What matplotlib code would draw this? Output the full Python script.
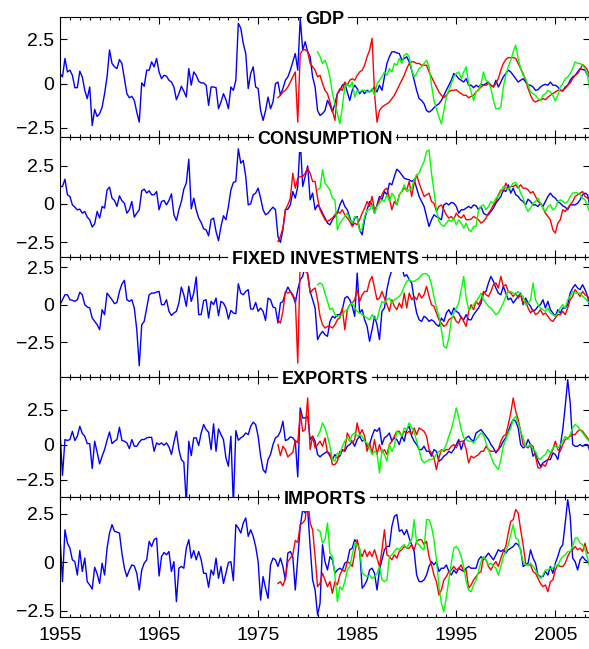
import numpy as np
import matplotlib
matplotlib.use("Agg")
import matplotlib.pyplot as plt

plt.rcParams["font.family"] = ["Liberation Sans", "DejaVu Sans"]

# quarterly series, first quarter of each
start_blue = 1955.0
start_red = 1977.0
start_green = 1981.0

gdp_blue = [
    0.57, 0.38, 1.42, 0.66, 0.76, 0.47, -0.23, -0.23, 0.70, 0.38,
    -0.38, -0.85, -0.19, -2.37, -1.46, -1.86, -1.70, -1.33, -0.57, 0.38,
    1.90, 1.14, 0.95, 0.85, 1.36, 1.14, 0.28, -0.57, -0.80, -0.72,
    -0.95, -1.61, -2.18, 0.04, -0.15, 0.76, 0.76, 1.23, 0.95, 1.42,
    0.66, 0.28, 0.47, 0.42, 0.19, 0.09, -0.19, -0.91, -0.57, -0.15,
    -0.43, -0.76, 0.85, -0.09, 0.66, 0.47, 0.13, 0.04, 0.04, -0.09,
    -1.23, -0.19, -0.19, -0.23, -1.42, -1.04, -0.57, -0.91, -1.42, -0.19,
    -0.38, 0.19, 3.41, 3.13, 2.27, 1.70, -0.28, 0.57, 0.95, -0.19,
    -0.28, -1.52, -2.08, -1.52, -0.76, -1.42, -1.04, 0.00, 0.09, -0.66,
    -0.28, 0.19, 0.38, 0.76, 1.23, 1.70, 0.76, 3.69, 1.89, 2.37,
    1.80, 1.52, 0.38, -0.19, -1.52, -1.80, -1.70, -1.52, -0.95, -1.23,
    -1.61, -1.14, -0.57, -0.38, -0.09, 0.00, -0.47, -0.95, -0.38, -0.09,
    -0.28, -0.57, -0.38, -0.57, -0.38, -0.47, -0.38, -0.19, -0.47, -0.09,
    -0.38, 0.38, 1.14, 1.52, 1.80, 1.80, 1.74, 1.70, 1.33, 1.42,
    1.52, 1.23, 0.76, 0.19, -0.38, -0.85, -0.95, -1.14, -1.52, -1.61,
    -1.52, -1.36, -1.23, -1.14, -0.95, -0.66, -0.38, -0.09, 0.19, 0.57,
    0.47, 0.28, 0.19, 0.09, 0.28, -0.09, -0.09, -0.23, -0.09, -0.19,
    -0.04, -0.09, 0.00, 0.09, -0.09, -0.19, 0.19, -0.19, 0.09, 0.38,
    0.57, 0.76, 0.66, 0.47, 0.28, 0.09, 0.19, 0.28, 0.09, -0.09,
    -0.09, -0.19, -0.38, -0.34, -0.19, -0.09, -0.04, -0.09, 0.09, -0.09,
    -0.09, -0.19, -0.38, -0.42, -0.19, -0.09, 0.19, 0.38, 0.47, 0.66,
    0.85, 0.80, 0.76, 0.47, 0.38,
]
gdp_red = [
    -0.80, -0.66, -0.47, -0.38, -0.19, 0.09, 0.38, 0.66, -2.18, 1.70,
    1.89, 1.93, 1.80, 1.14, 0.95, 0.76, 0.38, 0.47, 0.00, -0.38,
    -0.57, -1.04, -1.52, -2.08, -0.57, -0.28, -0.38, 0.09, -0.09, 0.19,
    0.28, 0.19, 0.47, 0.66, 0.76, 1.04, 1.52, 1.89, 2.56, -0.57,
    -2.18, -1.52, -1.33, -1.23, -1.14, -1.04, -0.85, -0.66, -0.38, -0.09,
    0.19, 0.47, 0.85, 1.14, 1.23, 1.23, 1.14, 1.14, 1.04, 1.04,
    1.04, 0.66, 0.38, 0.09, -0.19, -0.47, -0.66, -0.80, -0.66, -0.47,
    -0.38, -0.38, -0.34, -0.47, -0.57, -0.66, -0.66, -0.80, -0.72, -0.66,
    -0.47, -0.34, -0.19, -0.09, -0.09, 0.00, -0.09, -0.19, 0.00, 0.28,
    0.76, 1.14, 1.36, 1.48, 1.46, 1.48, 1.42, 1.14, 0.85, 0.57,
    0.19, -0.28, -0.66, -0.95, -1.04, -0.95, -0.95, -0.85, -0.91, -0.76,
    -0.66, -0.57, -0.47, -0.38, -0.38, -0.38, -0.28, -0.09, 0.04, 0.28,
    0.47, 0.57, 0.80, 1.08, 0.95, 0.76, 0.38,
]
gdp_green = [
    1.80, 1.52, 1.14, 1.33, 0.95, 0.38, -0.57, -1.14, -1.70, -2.27,
    -1.33, -0.19, 0.00, -0.19, 0.09, -0.76, -0.38, -0.47, -0.38, -0.38,
    -0.47, -0.47, -0.28, -0.66, 0.00, 0.19, 0.38, 0.66, 0.47, 0.85,
    0.66, 1.14, 1.04, 1.42, 1.14, 1.61, 1.70, 1.52, 0.76, 0.38,
    0.57, 0.85, 0.95, 1.14, 1.33, 0.95, -0.09, -0.95, -1.42, -1.89,
    -2.27, -1.52, -0.76, -0.38, 0.00, 0.38, 0.57, 0.66, 0.28, 0.66,
    0.95, 0.00, -0.47, -0.95, -0.47, -0.38, 0.00, 0.66, 0.19, 0.09,
    -0.28, -0.95, -1.42, -1.42, -1.33, -0.19, 0.47, 0.95, 1.33, 1.80,
    2.18, 1.42, 0.85, 0.47, 0.28, -0.09, -0.47, -0.57, -0.66, -0.85,
    -0.95, -0.66, -0.57, -0.38, -0.47, -0.66, -0.98, -0.66, -0.19, 0.00,
    0.28, 0.38, 0.57, 0.85, 1.23, 1.14, 1.14, 1.04, 0.85, 0.47,
    -0.47,
]

cons_blue = [
    1.13, 1.13, 1.61, 0.59, 0.48, -0.07, -0.22, -0.39, -0.35, -0.61,
    -0.50, -0.87, -1.04, -1.52, -1.30, -0.50, -0.93, -0.17, -0.28, 0.91,
    1.09, 0.37, 0.22, -0.17, 0.52, 0.20, 0.04, -0.61, -0.39, 0.15,
    -0.87, -0.61, -0.39, 0.85, 0.96, 0.70, 0.85, 0.59, 0.59, 0.80,
    -0.39, 0.15, 0.22, -0.07, 0.22, 0.65, -0.72, -1.09, -0.39, 0.15,
    0.96, 1.35, 2.91, -0.33, 0.37, -0.39, -0.93, -1.22, -1.63, -1.70,
    -2.09, -1.04, -0.93, -1.80, -2.41, -1.48, -0.78, -1.04, -0.17, 0.91,
    1.39, 1.46, 3.59, 2.65, 2.83, 1.78, -0.07, 0.00, 0.59, 0.70,
    1.02, 0.37, -0.39, -0.72, -0.61, -0.39, -0.22, -0.39, -2.13, -2.52,
    -1.70, -0.39, -0.35, -0.07, 0.80, 0.37, 1.13, 4.22, 1.13, 1.78,
    2.48, 0.26, 0.70, -0.39, -0.07, -0.28, -0.61, -0.93, -1.26, -1.37,
    -1.04, -0.83, -0.61, -0.07, 0.26, -0.17, -0.39, -0.87, -1.37, -0.93,
    -0.83, -1.70, -2.02, -1.04, -0.39, 0.15, -0.07, -0.61, -0.07, 0.48,
    0.26, 0.80, 0.59, 1.35, 1.24, 1.78, 2.26, 2.11, 1.89, 1.67,
    1.61, 1.57, 1.46, 1.57, 1.02, 0.48, 0.15, -0.17, -0.83, -1.48,
    -1.04, -0.72, -0.83, -0.93, -1.04, -0.07, 0.04, -0.07, 0.09, 0.04,
    -0.17, -0.61, -0.39, -0.39, -0.28, -0.17, -0.28, -0.07, -0.13, -0.39,
    -0.17, -0.61, -0.72, -0.72, -0.50, -0.28, 0.04, 0.26, 0.48, 0.91,
    0.80, 1.24, 0.70, 1.02, 0.59, 0.48, 0.26, 0.15, -0.07, 0.30,
    0.15, -0.07, -0.07, -0.17, 0.04, -0.17, 0.15, 0.48, 0.70, 0.48,
    0.37, 0.15, 0.04, -0.13, -0.22, -0.39, -0.07, -0.07, -0.07, 0.04,
    0.26, 0.59, 0.70, 0.59, -0.17,
]
cons_red = [
    -2.46, -2.13, -1.59, -0.39, -0.07, 0.37, 2.00, 1.02, 1.67, 1.78,
    1.78, 2.00, 2.33, 2.00, 1.46, 1.46, 0.37, -0.39, -0.72, -1.04,
    -1.15, -1.04, -0.93, -0.72, -0.50, -0.61, -0.39, -0.72, -0.93, -1.15,
    -1.48, -1.26, -1.37, -1.04, -0.61, -0.28, 0.15, -0.17, 0.48, -0.39,
    -0.17, 0.26, 0.59, 0.91, 1.02, 0.37, -0.39, 0.15, -0.07, 0.59,
    0.80, 1.02, 0.91, 1.46, 0.48, 1.35, 1.89, 1.35, 0.91, 0.48,
    0.59, 0.70, 0.15, 0.04, -0.50, -0.17, -0.07, -0.39, -0.72, -0.93,
    -0.83, -1.04, -0.61, -0.83, -0.93, -0.72, -1.04, -1.04, -1.00, -0.83,
    -0.93, -1.04, -1.26, -1.15, -0.93, -0.61, -0.39, -0.07, 0.15, 0.59,
    0.91, 0.80, 1.35, 1.02, 1.13, 1.13, 1.24, 1.02, 1.24, 1.02,
    1.02, 0.91, 0.70, 0.80, 0.48, 0.15, 0.04, -0.28, -0.61, -0.83,
    -1.04, -1.70, -1.91, -1.26, -1.04, -0.39, -0.50, -0.28, -0.07, 0.15,
    0.48, 0.59, 0.70, 0.80, 0.48, 0.37, 0.26,
]
cons_green = [
    0.91, 1.02, 2.22, 1.35, 1.13, 0.91, 0.37, 0.26, -1.70, -1.26,
    -1.04, -0.83, -0.61, -1.04, -1.26, -0.83, -0.93, -1.80, -1.59, -0.83,
    -0.39, -0.39, -0.07, -0.61, -0.17, 0.04, 0.26, 0.15, 0.59, 0.15,
    0.70, 0.48, -0.07, 0.59, 0.80, 1.24, 0.80, 0.91, 1.02, 1.57,
    1.89, 2.00, 2.43, 2.76, 3.41, 3.52, 2.00, 0.80, -0.39, -1.15,
    -1.37, -1.48, -1.26, -1.04, -1.15, -0.93, -1.37, -1.04, -1.26, -1.59,
    -1.26, -1.70, -1.80, -1.48, -1.48, -0.39, -0.17, -0.07, -0.39, -0.17,
    0.15, 0.04, 0.37, 0.48, 0.80, 1.13, 1.02, 0.91, 1.13, 1.35,
    1.39, 1.13, 0.70, 0.37, -0.17, -0.50, -0.28, 0.04, 0.15, 0.37,
    0.04, -0.28, -0.50, -0.17, -0.07, -0.39, -0.28, 0.15, 0.26, 0.15,
    0.04, 0.15, 0.48, 0.70, 0.74, 0.70, 0.59, 0.37, 0.26, -0.17,
    -0.61,
]

inv_blue = [
    0.00, 0.33, 0.66, 0.66, 0.33, 0.29, 0.22, 0.33, 0.82, 0.66,
    0.00, -0.15, -0.22, -0.88, -1.11, -1.33, -1.66, -0.33, -0.66, 0.77,
    0.55, 0.33, 0.07, 0.15, 0.88, 1.37, 1.62, 0.33, 0.22, 0.33,
    -0.22, -1.66, -4.05, -1.33, -1.11, -0.22, 0.66, 0.77, 0.77, 0.84,
    0.88, 0.00, 0.00, 0.33, -0.44, -0.71, -0.55, -0.44, 0.11, 1.17,
    0.66, -0.11, 1.22, 0.22, 0.77, 1.84, -0.66, -0.66, 0.27, 0.33,
    -0.88, 0.22, 0.00, 0.44, -0.73, 0.22, 0.11, -0.22, -0.95, -0.38,
    -0.55, -0.60, 1.39, 0.77, 0.66, 0.88, 1.00, -0.29, -0.29, 0.15,
    -0.44, -0.22, -0.44, -1.04, 0.44, 0.33, -0.15, -0.22, -1.22, 0.11,
    0.22, 0.77, 1.17, 0.88, 0.66, 0.11, 1.00, 1.66, 1.88, 2.65,
    1.99, 0.88, 0.33, -0.22, -2.32, -1.99, -1.77, -1.99, -2.10, -1.11,
    -0.77, -0.88, -0.66, -0.66, -0.33, 0.44, 0.55, 0.33, -0.11, -0.77,
    2.10, -0.55, -0.33, -1.00, -1.44, -2.43, -1.66, -0.77, -1.33, -2.32,
    -0.44, -0.22, 1.00, 1.77, 2.32, 2.43, 3.10, 2.43, 2.54, 1.88,
    1.99, 1.66, 1.44, 0.33, -0.55, -1.00, -1.11, -0.77, -0.88, -1.11,
    -1.00, -1.11, -1.33, -1.44, -0.88, -1.11, -0.55, -0.33, -0.66, -0.22,
    -0.44, -0.55, -0.88, -1.00, -0.66, -1.00, -1.00, -0.66, -0.44, -0.22,
    0.11, 0.77, 0.88, 1.44, 1.88, 1.55, 1.11, 0.77, 0.66, 1.22,
    0.77, 0.33, 0.44, 0.11, 0.33, 0.55, 0.77, 0.00, 0.44, 0.11,
    -0.11, -0.44, -0.33, -0.11, 0.00, 0.33, -0.22, 0.22, -0.33, -0.55,
    -0.77, -0.33, -0.55, -0.22, -0.22, 0.00, 0.77, 1.11, 1.33, 1.11,
    1.00, 1.33, 1.00, 0.55, -0.33,
]
inv_red = [
    -1.00, -1.22, -0.44, 0.88, 0.77, 0.88, 0.55, 0.44, -3.87, 2.99,
    2.32, 2.21, 2.10, 0.77, 1.00, 1.11, 0.33, -0.77, -1.33, -1.55,
    -1.44, -1.44, -1.55, -1.33, -1.00, -0.88, -0.22, -1.66, -0.33, 0.00,
    0.11, 0.33, 1.00, 0.22, 0.66, 0.88, 0.88, 1.55, 1.88, 1.11,
    0.33, 0.44, 0.88, 0.44, 0.00, -0.44, 0.33, -0.11, -0.33, 0.11,
    -0.22, 0.77, -0.22, 0.77, 0.33, 0.55, 0.33, 0.77, 0.44, 0.66,
    1.22, 0.55, 0.00, -0.11, -0.55, -1.00, -1.22, -1.44, -1.33, -1.00,
    -0.88, -0.77, -1.11, -1.22, -0.77, -1.11, -1.44, -0.44, 0.00, -0.33,
    0.22, 0.00, 0.33, 0.88, 0.66, 0.55, 0.88, 1.33, 1.44, 1.11,
    1.88, 1.22, 1.33, 0.88, 0.77, 0.55, 0.77, 0.44, 0.66, 0.11,
    0.22, -0.22, -0.55, -0.33, -0.66, -0.55, -0.33, -0.66, -0.55, -0.77,
    -1.00, -1.11, -0.88, -0.66, -0.66, -0.44, -0.66, -0.22, 0.33, 0.55,
    1.00, 0.77, 0.55, 0.88, 0.66, 0.55, 0.33,
]
inv_green = [
    1.33, 1.44, 1.33, 0.77, 0.22, -0.33, -0.22, -0.66, -0.77, -0.77,
    -0.66, -0.44, -0.33, 0.00, 0.11, -0.22, -0.44, -0.55, -0.66, -0.77,
    -0.88, -1.00, -0.66, -0.88, -1.00, -0.33, 0.22, 0.11, 0.33, 0.44,
    0.11, 0.33, 0.44, 0.55, 0.77, 1.22, 1.55, 1.66, 1.55, 1.55,
    1.66, 1.77, 1.99, 2.06, 2.06, 1.88, 1.33, 0.55, -0.22, -0.77,
    -1.66, -2.77, -2.88, -2.21, -1.00, -0.55, -0.22, 0.11, 1.00, 1.88,
    0.44, -0.33, -0.22, 0.00, 0.22, 0.44, 0.77, 0.33, 0.11, -0.11,
    -0.22, -0.44, -0.66, -0.55, -0.22, 0.11, 0.55, 0.88, 0.88, 0.77,
    0.66, 0.88, 0.66, 0.55, 0.00, 0.11, 0.33, 1.44, 0.33, 0.00,
    -0.22, -0.33, -0.44, -0.22, -0.55, -0.66, -0.77, -0.55, -0.22, 0.00,
    -0.22, 0.33, 0.55, 0.88, 0.77, 0.77, 0.77, 0.55, 0.44, 0.22,
    0.11,
]

exp_blue = [
    0.95, -2.21, 0.36, 0.29, 0.36, 0.95, 0.29, 0.60, 1.31, 0.79,
    0.60, 0.07, 0.07, -1.71, 0.24, -0.55, -1.38, -0.83, -0.36, 0.31,
    0.90, 0.07, 0.24, 0.36, 1.24, 0.29, 0.24, 0.12, -0.29, 0.36,
    -0.12, -0.12, 0.17, 0.36, 0.36, 0.48, 0.52, 0.52, -0.48, 0.12,
    0.00, 0.12, -0.05, 0.12, -0.17, -0.71, 0.17, 0.95, -0.36, -1.07,
    -1.26, -4.20, 0.24, -0.79, 0.48, 0.48, -0.07, 0.83, 1.43, 1.07,
    0.88, -0.36, 1.48, -0.48, 1.12, 0.71, 0.36, -0.95, -1.55, 0.60,
    -4.30, 1.00, 0.31, 0.48, 0.60, 0.83, 0.71, 1.31, 1.60, 1.43,
    0.60, -0.83, -1.79, -2.02, -1.07, -0.71, 0.00, 0.48, 0.60, 0.95,
    1.67, 0.29, 0.36, 0.55, 0.48, 0.24, -2.31, 2.62, 1.90, 1.90,
    2.02, 0.36, 0.60, 0.24, -0.71, -0.88, -0.71, -0.60, -0.48, -0.83,
    -1.07, -0.71, -0.95, -0.83, -0.36, -0.48, -0.12, 0.00, 0.24, -0.12,
    0.36, 0.60, 0.24, 0.36, -0.12, 0.00, 0.60, 1.07, 0.95, 1.19,
    0.00, 0.48, 0.60, 0.83, 0.24, 0.48, 0.36, 0.00, 0.60, 0.24,
    1.07, 1.31, 0.60, 0.24, 0.00, -0.36, -0.36, -0.12, -0.48, -0.48,
    -0.83, -0.36, -0.48, -1.19, -1.07, -0.83, -0.71, -0.48, -0.60, -0.36,
    0.00, 0.36, -0.36, 0.24, 0.48, 0.60, 0.36, 0.24, 0.83, 0.95,
    1.07, 0.83, 0.60, 0.36, 0.00, -0.24, -0.60, -0.36, -0.12, 0.24,
    0.48, 0.95, 1.43, 1.79, 1.67, 1.19, 0.00, -0.24, -0.12, 0.36,
    0.00, -0.83, -0.60, -1.19, -1.55, -1.31, -1.19, -1.07, -1.07, -0.60,
    -0.71, -1.07, -0.12, 1.07, 2.74, 4.64, 2.98, 0.00, -0.12, -0.12,
    0.00, -0.12, 0.00, 0.00, -0.48,
]
exp_red = [
    0.00, -0.79, -0.12, -0.36, -0.88, -0.71, -0.55, 0.31, 0.12, 2.31,
    0.95, 1.07, 3.33, -0.36, 0.60, -0.24, 0.00, 0.24, -0.12, 0.48,
    -0.60, -0.60, -1.43, -1.43, -1.19, -0.48, -0.48, -0.36, 0.83, 0.48,
    0.12, 0.36, 1.55, 0.71, 1.07, 0.60, -0.48, 0.12, -0.60, 0.36,
    -0.71, 0.00, -0.60, -0.36, -0.71, 0.00, 0.24, 0.60, 0.95, 0.95,
    0.60, 0.95, 0.83, 0.95, 0.71, 1.19, 0.71, 1.19, 1.07, 0.95,
    0.60, -0.36, -0.60, -0.95, -1.79, -0.95, -0.36, -0.48, -0.36, -0.36,
    -0.12, 0.00, -0.24, 0.12, 0.24, 0.24, -0.36, -1.31, -0.83, -0.95,
    -0.83, -0.71, -0.48, -0.48, -0.12, -0.36, -0.48, -0.48, -0.48, -0.36,
    0.24, 0.60, 0.71, 1.43, 2.26, 3.33, 2.38, 1.79, 0.95, 0.00,
    -0.12, -0.24, 0.00, -0.12, -0.83, -1.67, -1.67, -1.43, -1.55, -1.07,
    -0.71, -0.36, 0.24, -0.36, -0.48, 0.00, 0.36, 0.48, 0.60, 0.71,
    0.71, 0.95, 1.07, 0.95, 0.71, 0.48, 0.12,
]
exp_green = [
    0.60, 0.95, 1.55, 1.19, 0.60, -0.12, -1.07, -1.19, -0.60, -0.71,
    -0.12, 0.24, 0.48, 0.24, 0.71, 0.83, 0.60, 0.71, 0.60, 0.24,
    0.12, -0.24, -0.71, -0.48, -0.60, -2.02, -0.36, -0.71, -1.19, 0.00,
    -0.48, -0.12, 0.95, 0.83, 0.60, 1.19, 1.07, 1.55, 1.19, 0.95,
    0.24, -0.36, -1.07, -1.31, -1.19, -1.07, -1.07, -0.95, -0.71, -0.48,
    -0.48, -0.36, 0.00, 0.60, 1.07, 1.79, 2.62, 1.90, 1.07, 0.48,
    0.36, 0.24, 0.24, 0.12, 0.36, 0.60, 0.83, 0.71, 0.12, -0.36,
    -0.83, -1.31, -1.55, -1.79, -1.07, -0.12, 0.36, 0.83, 1.19, 1.79,
    2.02, 1.55, 0.95, 0.48, -0.12, -0.12, 0.00, -0.36, -0.48, -0.95,
    -1.07, -0.83, -0.71, -0.36, -0.60, -0.24, -0.12, -0.24, 0.00, 0.24,
    0.60, 0.36, 0.71, 1.19, 1.43, 1.31, 1.07, 0.83, 0.60, 0.36,
    0.24,
]

imp_blue = [
    1.33, -1.00, 1.67, 0.98, 0.72, 0.12, 0.03, -0.66, 0.60, -0.48,
    0.21, -1.00, -1.17, -1.38, -0.26, -0.60, -1.09, -0.05, -0.66, 0.72,
    1.50, 1.93, 1.59, 1.55, 1.50, 0.47, -0.31, -0.74, -0.40, -0.14,
    -0.19, -0.57, -1.43, -0.40, -0.05, 0.12, 1.07, 0.81, 1.16, 1.24,
    -0.71, 0.29, 0.50, 0.38, 0.55, -0.48, 0.03, -2.03, -0.31, -0.22,
    -0.31, 0.72, 1.16, 0.21, 0.60, 0.12, 0.55, 0.12, -0.57, -0.57,
    -1.29, -0.40, -0.66, 0.21, -0.83, -0.22, -1.09, -0.57, -0.02, 0.03,
    -0.95, 1.93, 1.76, 1.50, 2.02, 2.28, 1.33, 1.67, 1.33, 0.81,
    0.03, -1.95, -0.74, -1.34, -1.86, -0.14, 0.21, 0.12, -0.22, 0.21,
    -0.22, -0.91, 0.47, 0.55, 0.29, -1.43, 0.21, 1.84, 2.71, 2.53,
    2.71, 0.81, -0.91, -1.43, -2.72, -2.12, 0.90, 0.03, -0.40, 0.29,
    0.12, -0.57, -0.40, -0.31, -0.40, -0.05, 0.03, 0.64, 0.72, 1.16,
    0.98, 0.64, -1.34, -1.17, -0.91, -0.40, -0.31, -0.57, -1.43, -0.40,
    0.12, 0.64, 0.81, 0.81, 1.84, 2.36, 2.45, 1.59, 1.67, 1.41,
    1.67, 1.24, 0.90, 0.55, -0.66, -1.00, -1.00, -0.91, -0.66, -0.22,
    0.03, -0.14, 0.03, -0.48, -0.31, -0.31, -0.14, -0.48, -0.66, -0.40,
    -0.57, -0.31, -0.40, -0.48, -0.31, -0.22, -0.31, -0.31, -0.31, 0.12,
    0.29, 0.12, 0.29, 0.47, 0.29, 0.12, 0.38, 0.64, 0.55, 0.64,
    0.47, 0.64, 0.72, 0.81, 0.98, 0.90, 0.64, -0.22, -0.14, -0.05,
    0.64, 0.21, -0.05, -0.66, -0.74, -0.74, -0.48, -0.66, -0.22, -0.57,
    -0.05, 0.29, 0.72, 0.90, 2.02, 3.22, 2.36, 0.21, 0.03, -0.40,
    0.12, 0.29, 0.12, 0.03, -0.14,
]
imp_red = [
    -1.09, -1.00, -1.22, -0.83, 0.03, 0.21, 0.38, 1.12, 1.02, 1.93,
    2.02, 2.19, 3.40, 2.02, 1.67, 0.29, -1.26, -1.09, -0.57, -0.91,
    -1.26, -1.00, -1.60, -1.00, -1.17, -0.66, -0.40, -0.48, 0.03, -0.05,
    -0.22, 0.47, 1.16, 0.55, 0.29, 0.64, 0.29, 0.55, 0.29, 0.64,
    0.21, -0.22, 0.64, 1.67, 0.38, 0.29, 0.12, 0.38, 0.21, 0.55,
    0.64, 0.81, 0.72, 0.72, 0.90, 0.64, 1.07, 1.16, 1.16, 0.90,
    1.07, 0.29, -0.14, -0.66, -1.00, -1.69, -1.43, -0.91, -0.74, -0.48,
    -0.40, -0.22, -0.40, -0.31, -0.14, -0.48, -0.40, -1.34, -1.17, -0.91,
    -0.74, -0.57, -0.48, 0.29, 0.12, -0.22, -0.40, -0.14, 0.03, -0.22,
    0.21, 0.55, 0.81, 1.50, 2.10, 2.19, 2.71, 2.53, 1.67, 0.90,
    -0.05, -0.14, -0.14, -0.48, -0.57, -0.83, -1.09, -1.26, -1.17, -1.52,
    -1.00, -0.91, -0.40, -0.14, -0.22, -0.22, -0.05, 0.29, 0.55, 0.64,
    0.81, 0.64, 0.72, 0.55, 0.98, 0.47, 0.47,
]
imp_green = [
    1.67, 1.59, 0.98, 1.16, 2.02, 0.47, 0.29, -0.66, -2.03, -1.26,
    -1.43, -1.00, -0.40, -0.22, 0.38, 0.98, 0.90, 0.72, -0.57, -0.66,
    -0.74, -0.66, -0.83, -0.74, -0.57, -0.22, -0.91, -1.00, -0.91, 0.29,
    0.38, 0.55, 0.72, 0.64, 0.81, 0.90, 0.72, 0.98, 1.16, 2.19,
    0.98, 0.90, 0.72, 0.64, 2.19, 2.19, 1.84, 1.16, 0.12, -1.26,
    -2.12, -2.55, -1.78, -0.91, -0.05, 0.72, 0.81, 0.64, 0.29, -0.22,
    -1.00, -1.43, -1.52, -1.17, -0.91, -0.48, 0.03, 0.29, 0.12, -0.14,
    -0.05, -0.22, -0.31, -0.66, -0.22, 0.29, 0.55, 0.90, 1.41, 1.93,
    1.24, 1.16, 0.55, 0.03, -0.14, -0.14, -0.05, -0.22, -0.40, -0.66,
    -0.83, -0.66, -0.40, -0.40, -0.31, -0.31, -0.14, -0.22, 0.12, 0.29,
    0.38, 0.55, 0.55, 0.81, 1.24, 1.24, 0.98, 0.90, 0.64, 0.21,
    -0.31,
]

titles = ["GDP", "CONSUMPTION", "FIXED INVESTMENTS", "EXPORTS", "IMPORTS"]
blue_series = [gdp_blue, cons_blue, inv_blue, exp_blue, imp_blue]
red_series = [gdp_red, cons_red, inv_red, exp_red, imp_red]
green_series = [gdp_green, cons_green, inv_green, exp_green, imp_green]
y_limits = [(-3.03, 3.75), (-3.48, 4.35), (-4.80, 3.16), (-3.74, 4.83), (-2.81, 3.36)]


def quarters(start, values):
    return start + np.arange(len(values)) / 4.0


fig = plt.figure(figsize=(5.89, 6.49), dpi=100)
left = 60 / 589
width = 530 / 589
top = 1 - 17.3 / 649
height = 119.9 / 649

for k, name in enumerate(titles):
    ax = fig.add_axes([left, top - (k + 1) * height, width, height])
    ax.plot(quarters(start_blue, blue_series[k]), blue_series[k], color=(0, 0, 1), lw=1.0)
    ax.plot(quarters(start_red, red_series[k]), red_series[k], color=(1, 0, 0), lw=1.0)
    ax.plot(quarters(start_green, green_series[k]), green_series[k], color=(0, 1, 0), lw=1.0)

    ax.set_xlim(1955, 2008.5)
    ax.set_ylim(*y_limits[k])
    ax.set_xticks(np.arange(1955, 2009, 10))
    ax.set_xticks(np.arange(1955, 2009, 1), minor=True)
    ax.set_yticks([-2.5, 0, 2.5])
    ax.set_yticklabels(["\u22122.5", "0", "2.5"])

    ax.tick_params(which="both", direction="in", top=True, right=True,
                   labelsize=14, width=0.8)
    ax.tick_params(which="major", length=5)
    ax.tick_params(which="minor", length=2.5)
    ax.tick_params(axis="y", pad=4)
    ax.tick_params(axis="x", pad=7, labelbottom=(k == len(titles) - 1))
    for sp in ax.spines.values():
        sp.set_linewidth(0.8)

    ax.annotate(name, xy=(0.5, 1.0), xycoords="axes fraction",
                xytext=(0, -5), textcoords="offset points",
                ha="center", va="baseline", fontsize=13, fontweight="bold",
                bbox=dict(boxstyle="square,pad=0.2", fc="white", ec="none"),
                zorder=10, annotation_clip=False)

fig.savefig("out.png", dpi=100)
